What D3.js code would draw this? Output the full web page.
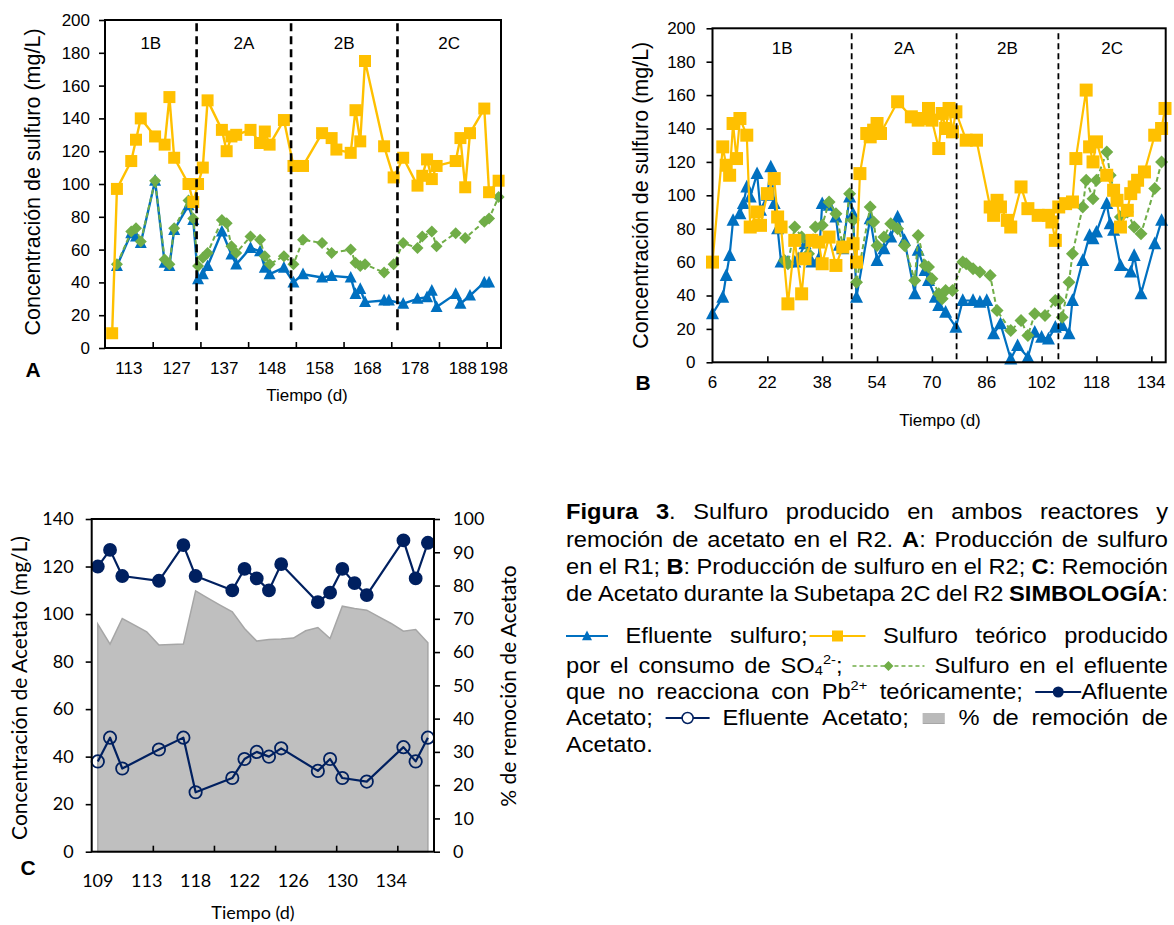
<!DOCTYPE html>
<html>
<head>
<meta charset="utf-8">
<script src="https://cdn.jsdelivr.net/npm/d3@7"></script>
<style>
  body { margin: 0; background: #fff; }
  svg { display: block; }
</style>
</head>
<body>
<script>
// ---------- Panel A: R1, sample number (category) vs sulfide, mg/L ----------
const tickIdxA   = [0, 10, 20, 30, 40, 50, 60, 70, 80];
const tickLblA   = ["113", "127", "137", "148", "158", "168", "178", "188", "198"];
const phaseLblA  = ["1B", "2A", "2B", "2C"];
const phaseCutA  = [18.7, 38.5, 60.8];

const teoIdxA = [1,2,5,6,7,10,12,13,14,17,18,19,20,21,24,25,26,27,30,32,33,34,37,39,41,45,47,48,51,52,53,54,58,60,62,65,66,67,68,69,73,74,75,76,79,80,82];
const teoValA = [9,97,114,127,140,129,124,153,116,100,89,100,110,151,133,120,129,130,133,125,132,124,139,111,111,131,128,121,119,145,126,175,123,104,116,99,105,115,103,111,114,128,98,131,146,95,102];

const eflIdxA = [2,5,6,7,10,12,13,14,17,18,19,20,21,24,26,27,30,32,33,34,37,39,41,45,47,51,52,53,54,58,59,62,65,67,68,69,73,74,76,79,80];
const eflValA = [50,70,68,64,102,52,50,72,87,78,42,45,50,71,57,51,61,59,49,45,49,40,45,43,44,43,33,36,28,29,29,27,30,31,35,25,33,27,32,40,40];

const sinIdxA = [2,5,6,7,10,12,13,14,17,18,19,20,21,24,25,26,27,30,32,33,34,37,39,41,45,47,51,52,53,54,58,60,62,65,66,68,69,73,75,79,80,82];
const sinValA = [51,71,73,65,102,54,51,73,90,79,50,55,58,78,76,62,58,68,66,56,51,56,51,66,64,58,60,52,50,51,46,51,64,61,68,71,62,70,67,77,79,92];

// ---------- Panel B: R2, day vs sulfide, mg/L ----------
const tickDayB  = [6, 22, 38, 54, 70, 86, 102, 118, 134];
const phaseLblB = ["1B", "2A", "2B", "2C"];
const phaseCutB = [46.6, 77.2, 106.9];

const teoDayB = [6,9,10,11,12,13,14,16,17,19,20,22,24,25,26,28,30,32,33,35,37,38,40,42,44,47,48,49,51,52,53,54,55,60,64,66,67,69,70,72,73,74,75,76,77,80,83,87,88,89,90,92,93,96,98,101,104,105,106,107,109,111,112,115,116,117,118,121,123,124,125,127,128,129,130,132,135,137,138];
const teoValB = [60,129,118,112,143,122,146,136,81,90,82,101,110,87,81,35,73,41,62,73,72,59,75,58,69,71,60,113,137,135,139,143,137,156,147,145,146,152,145,128,149,140,152,138,150,133,133,93,88,97,93,85,81,105,92,88,88,84,73,93,95,96,122,163,129,120,132,112,103,97,81,91,101,105,109,114,136,140,152];

const eflDayB = [6,9,10,11,12,14,15,16,17,19,20,22,23,24,25,26,28,30,31,33,35,37,38,40,42,43,44,46,47,48,52,54,56,58,60,62,65,66,68,69,71,72,74,77,79,82,84,86,88,90,93,95,98,100,102,104,106,108,110,111,114,116,117,118,121,122,123,125,128,129,131,135,137];
const eflValB = [29,39,52,64,85,89,95,105,99,113,91,100,117,95,80,60,60,60,62,71,60,62,95,94,87,70,68,99,89,39,86,61,68,75,87,73,41,67,55,49,39,34,30,21,37,37,36,37,17,23,2,10,3,18,15,14,21,22,17,37,61,76,74,78,95,83,79,58,54,64,41,71,85];

const sinDayB = [27,28,30,32,34,36,38,40,42,44,46,47,48,52,53,54,56,58,60,62,65,66,68,69,70,72,73,74,76,79,80,82,84,87,89,93,96,98,100,103,106,107,108,110,111,114,115,117,118,121,122,125,127,129,131,135,137];
const sinValB = [61,59,81,75,65,81,82,96,89,70,101,85,48,93,84,70,75,83,80,70,49,76,58,57,50,41,38,43,43,60,59,56,54,52,31,19,25,16,29,28,37,37,27,48,65,93,109,98,109,126,112,87,90,81,77,104,120];

// ---------- Panel C: acetate during sub-stage 2C ----------
const tickIdxC = [0, 4, 8, 12, 16, 20, 24];
const tickLblC = ["109", "113", "118", "122", "126", "130", "134"];
const markIdxC = [4.5, 9.5, 14.5, 19.5, 24.5];

const aflIdxC = [0,1,2,5,7,8,11,12,13,14,15,18,19,20,21,22,25,26,27];
const aflValC = [120,127,116,114,129,116,110,119,115,110,121,105,109,119,113,108,131,115,130];
const eflIdxC = [0,1,2,5,7,8,11,12,13,14,15,18,19,20,22,25,26,27];
const eflValC = [38,48,35,43,48,25,31,39,42,40,43.5,34,39,31,29.5,44,38,48];
const remValC = [68.4,62.4,70.1,68.1,66.1,62.1,62.3,62.4,78.4,76.2,74.1,72.1,67.1,63.3,63.8,63.9,64.2,66.4,67.4,64.1,73.8,73.1,72.6,70.6,68.6,66.3,66.8,62.8];

// ---------- colours ----------
const BLUE = "#0070C0", GOLD = "#FFC000", GREEN = "#70AD47", NAVY = "#002060", GREY = "#BFBFBF";
const ARIAL = "'Liberation Sans', Arial, sans-serif";
const CALI  = "Lato, 'Open Sans', sans-serif";

const svg = d3.select("body").append("svg")
  .attr("width", 1174).attr("height", 925)
  .style("font-family", ARIAL);

// marker shapes
const sq  = s => `M${-s/2},${-s/2}h${s}v${s}h${-s}Z`;
const tri = s => `M0,${-s*0.55}L${s/2},${s*0.42}L${-s/2},${s*0.42}Z`;
const dia = s => `M0,${-s/2}L${s/2},0L0,${s/2}L${-s/2},0Z`;

function drawSeries(g, xs, ys, xS, yS, o) {
  const pts = xs.map((x, i) => [x, ys[i]]);
  g.append("path").datum(pts)
    .attr("fill", "none").attr("stroke", o.color).attr("stroke-width", o.lw)
    .attr("stroke-dasharray", o.dash || null).attr("stroke-linejoin", "round")
    .attr("d", d3.line().x(d => xS(d[0])).y(d => yS(d[1])));
  g.append("g").selectAll("path").data(pts).join("path")
    .attr("transform", d => `translate(${xS(d[0])},${yS(d[1])})`)
    .attr("d", o.marker)
    .attr("fill", o.fill || o.color)
    .attr("stroke", o.mstroke || "none")
    .attr("stroke-width", o.msw || 0);
}

function styleAxis(sel, font, size) {
  sel.select(".domain").remove();
  sel.selectAll(".tick line").attr("stroke", "#000").attr("stroke-width", 1.6);
  sel.selectAll(".tick text").attr("fill", "#000").style("font-family", font).style("font-size", size + "px");
}

// ================= Panel A =================
{
  const P = { l: 105, r: 501, t: 20, b: 348 };
  const x = d3.scaleLinear().domain([-0.5, 82.5]).range([P.l, P.r]);
  const y = d3.scaleLinear().domain([0, 200]).range([P.b, P.t]);
  const g = svg.append("g");

  g.append("g").attr("transform", `translate(${P.l},0)`)
    .call(d3.axisLeft(y).tickValues(d3.range(0, 201, 20)).tickSize(6).tickPadding(9))
    .call(s => styleAxis(s, ARIAL, 17));

  const bounds = tickIdxA.map(i => i - 0.5);
  g.append("g").attr("transform", `translate(0,${P.b})`)
    .call(d3.axisBottom(x).tickValues(bounds.slice(1)).tickSize(-6).tickFormat(""))
    .call(s => styleAxis(s, ARIAL, 17));
  const edges = bounds.concat([x.domain()[1]]);
  g.append("g").selectAll("text").data(tickLblA).join("text")
    .attr("x", (d, i) => x((edges[i] + edges[i + 1]) / 2)).attr("y", P.b + 26)
    .attr("text-anchor", "middle").style("font-size", "17px").text(d => d);

  drawSeries(g, eflIdxA, eflValA, x, y, { color: BLUE, lw: 2.4, marker: tri(12) });
  drawSeries(g, sinIdxA, sinValA, x, y, { color: GREEN, lw: 2, dash: "5,3", marker: dia(12) });
  drawSeries(g, teoIdxA, teoValA, x, y, { color: GOLD, lw: 2.4, marker: sq(12) });

  g.append("g").selectAll("line").data(phaseCutA).join("line")
    .attr("x1", d => x(d)).attr("x2", d => x(d))
    .attr("y1", y(198)).attr("y2", y(10))
    .attr("stroke", "#000").attr("stroke-width", 2.6).attr("stroke-dasharray", "8,5");
  const pe = [x.domain()[0]].concat(phaseCutA, [x.domain()[1]]);
  g.append("g").selectAll("text").data(phaseLblA).join("text")
    .attr("x", (d, i) => x((pe[i] + pe[i + 1]) / 2)).attr("y", P.t + 29)
    .attr("text-anchor", "middle").style("font-size", "17px").text(d => d);

  g.append("rect").attr("x", P.l).attr("y", P.t).attr("width", P.r - P.l).attr("height", P.b - P.t)
    .attr("fill", "none").attr("stroke", "#000").attr("stroke-width", 2);

  g.append("text").attr("transform", `translate(${40},${(P.t + P.b) / 2 - 2}) rotate(-90)`)
    .attr("text-anchor", "middle").style("font-size", "21.5px").text("Concentración de sulfuro (mg/L)");
  g.append("text").attr("x", 307).attr("y", 401).attr("text-anchor", "middle")
    .style("font-size", "17px").text("Tiempo (d)");
  g.append("text").attr("x", 33).attr("y", 377).attr("text-anchor", "middle")
    .style("font-size", "21px").style("font-weight", "bold").text("A");
}

// ================= Panel B =================
{
  const P = { l: 712.5, r: 1165.7, t: 28.3, b: 362.3 };
  const x = d3.scaleLinear().domain([6, 138.2]).range([P.l, P.r]);
  const y = d3.scaleLinear().domain([0, 200]).range([P.b, P.t]);
  const g = svg.append("g");

  g.append("g").attr("transform", `translate(${P.l},0)`)
    .call(d3.axisLeft(y).tickValues(d3.range(0, 201, 20)).tickSize(6).tickPadding(11))
    .call(s => styleAxis(s, ARIAL, 17));
  g.append("g").attr("transform", `translate(0,${P.b})`)
    .call(d3.axisBottom(x).tickValues(tickDayB.slice(1)).tickSize(-6).tickFormat(""))
    .call(s => styleAxis(s, ARIAL, 17));
  g.append("g").selectAll("text").data(tickDayB).join("text")
    .attr("x", d => x(d)).attr("y", P.b + 26)
    .attr("text-anchor", "middle").style("font-size", "17px").text(d => d);

  drawSeries(g, eflDayB, eflValB, x, y, { color: BLUE, lw: 2.2, marker: tri(13) });
  drawSeries(g, sinDayB, sinValB, x, y, { color: GREEN, lw: 2, dash: "5,3", marker: dia(13) });
  drawSeries(g, teoDayB, teoValB, x, y, { color: GOLD, lw: 2.2, marker: sq(13) });

  g.append("g").selectAll("line").data(phaseCutB).join("line")
    .attr("x1", d => x(d)).attr("x2", d => x(d))
    .attr("y1", y(197)).attr("y2", y(0))
    .attr("stroke", "#000").attr("stroke-width", 1.8).attr("stroke-dasharray", "6,4");
  const pe = [x.domain()[0]].concat(phaseCutB, [x.domain()[1]]);
  g.append("g").selectAll("text").data(phaseLblB).join("text")
    .attr("x", (d, i) => x((pe[i] + pe[i + 1]) / 2)).attr("y", P.t + 26)
    .attr("text-anchor", "middle").style("font-size", "17px").text(d => d);

  g.append("rect").attr("x", P.l).attr("y", P.t).attr("width", P.r - P.l).attr("height", P.b - P.t)
    .attr("fill", "none").attr("stroke", "#000").attr("stroke-width", 2);

  g.append("text").attr("transform", `translate(${648},${(P.t + P.b) / 2}) rotate(-90)`)
    .attr("text-anchor", "middle").style("font-size", "21.5px").text("Concentración de sulfuro (mg/L)");
  g.append("text").attr("x", 940).attr("y", 426).attr("text-anchor", "middle")
    .style("font-size", "17px").text("Tiempo (d)");
  g.append("text").attr("x", 643).attr("y", 390).attr("text-anchor", "middle")
    .style("font-size", "21px").style("font-weight", "bold").text("B");
}

// ================= Panel C =================
{
  const P = { l: 91.7, r: 434, t: 519, b: 851.7 };
  const x = d3.scaleLinear().domain([-0.5, 27.5]).range([P.l, P.r]);
  const y = d3.scaleLinear().domain([0, 140]).range([P.b, P.t]);
  const y2 = d3.scaleLinear().domain([0, 100]).range([P.b, P.t]);
  const g = svg.append("g");

  g.append("path").datum(remValC)
    .attr("fill", GREY).attr("stroke", "#A6A6A6").attr("stroke-width", 1.5)
    .attr("d", d3.area().x((d, i) => x(i)).y0(P.b).y1(d => y2(d)));

  g.append("g").attr("transform", `translate(${P.l},0)`)
    .call(d3.axisLeft(y).tickValues(d3.range(0, 141, 20)).tickSize(6).tickPadding(12))
    .call(s => styleAxis(s, CALI, 18));
  g.append("g").attr("transform", `translate(${P.r},0)`)
    .call(d3.axisRight(y2).tickValues(d3.range(0, 101, 10)).tickSize(6).tickPadding(13))
    .call(s => styleAxis(s, CALI, 18));
  g.append("g").attr("transform", `translate(0,${P.b})`)
    .call(d3.axisBottom(x).tickValues(markIdxC).tickSize(-6).tickFormat(""))
    .call(s => styleAxis(s, CALI, 18));
  g.append("g").selectAll("text").data(tickLblC).join("text")
    .attr("x", (d, i) => x(tickIdxC[i])).attr("y", P.b + 35)
    .attr("text-anchor", "middle").style("font-family", CALI).style("font-size", "18px").text(d => d);

  drawSeries(g, aflIdxC, aflValC, x, y, { color: NAVY, lw: 2.2, marker: d3.symbol(d3.symbolCircle, 150)() });
  drawSeries(g, eflIdxC, eflValC, x, y, { color: NAVY, lw: 2.2, marker: d3.symbol(d3.symbolCircle, 120)(),
    fill: "none", mstroke: NAVY, msw: 1.8 });

  g.append("rect").attr("x", P.l).attr("y", P.t).attr("width", P.r - P.l).attr("height", P.b - P.t)
    .attr("fill", "none").attr("stroke", "#000").attr("stroke-width", 2);

  g.append("text").attr("transform", `translate(${27},${688}) rotate(-90)`)
    .attr("text-anchor", "middle").style("font-family", CALI).style("font-size", "21px")
    .text("Concentración de Acetato (mg/L)");
  g.append("text").attr("transform", `translate(${516},${686}) rotate(-90)`)
    .attr("text-anchor", "middle").style("font-family", CALI).style("font-size", "21px")
    .text("% de remoción de Acetato");
  g.append("text").attr("x", 253).attr("y", 919).attr("text-anchor", "middle")
    .style("font-family", CALI).style("font-size", "18px").text("Tiempo (d)");
  g.append("text").attr("x", 28).attr("y", 875).attr("text-anchor", "middle")
    .style("font-size", "21px").style("font-weight", "bold").text("C");
}

// ================= Caption with inline legend =================
const capLeft = 566, capRight = 1168, capFont = 21.5, capSX = 1.1;
const captionLines = [
  "*Figura 3*. Sulfuro producido en ambos reactores y",
  "remoción de acetato en el R2. *A*: Producción de sulfuro",
  "en el R1; *B*: Producción de sulfuro en el R2; *C*: Remoción",
  "de Acetato durante la Subetapa 2C del R2 *SIMBOLOGÍA*:",
  "[ef] Efluente sulfuro;[teo] Sulfuro teórico producido",
  "por el consumo de SO~4~^2-^; [sin] Sulfuro en el efluente",
  "que no reacciona con Pb^2+^ teóricamente; [afl]Afluente",
  "Acetato; [efa] Efluente Acetato; [rem] % de remoción de",
  "Acetato."
];
const captionBase = [519, 546.5, 574, 601, 643, 673, 699, 725, 752];

const icons = {
  ef:  { w: 42, draw: g => {
    g.append("line").attr("x2", 42).attr("stroke", BLUE).attr("stroke-width", 2);
    g.append("path").attr("transform", "translate(21,0)").attr("d", tri(10)).attr("fill", BLUE); } },
  teo: { w: 58, draw: g => {
    g.append("line").attr("x1", 2).attr("x2", 58).attr("stroke", GOLD).attr("stroke-width", 2);
    g.append("path").attr("transform", "translate(30,0)").attr("d", sq(11)).attr("fill", GOLD); } },
  sin: { w: 72, draw: g => {
    g.append("line").attr("x2", 72).attr("stroke", GREEN).attr("stroke-width", 1.5).attr("stroke-dasharray", "4,3");
    g.append("path").attr("transform", "translate(36,0)").attr("d", dia(10)).attr("fill", GREEN); } },
  afl: { w: 46, draw: g => {
    g.append("line").attr("x2", 46).attr("stroke", NAVY).attr("stroke-width", 2);
    g.append("circle").attr("cx", 23).attr("r", 5.5).attr("fill", NAVY); } },
  efa: { w: 44, draw: g => {
    g.append("line").attr("x2", 44).attr("stroke", NAVY).attr("stroke-width", 2);
    g.append("circle").attr("cx", 22).attr("r", 5.5).attr("fill", "#fff").attr("stroke", NAVY).attr("stroke-width", 1.5); } },
  rem: { w: 24, draw: g => {
    g.append("rect").attr("x", 1).attr("y", -5).attr("width", 22).attr("height", 11).attr("fill", "#A6A6A6");
    g.append("g").selectAll("line").data(d3.range(-4, 6, 2)).join("line")
      .attr("x1", 1).attr("x2", 23).attr("y1", d => d).attr("y2", d => d)
      .attr("stroke", "#D9D9D9").attr("stroke-width", 0.8); } }
};

function parseLine(str) {
  const words = []; let cur = []; let b = false, sup = false, sub = false, buf = "";
  const flush = () => { if (buf) { cur.push({ s: buf, b, sup, sub }); buf = ""; } };
  for (let i = 0; i < str.length; i++) {
    const ch = str[i];
    if (ch === "*") { flush(); b = !b; }
    else if (ch === "^") { flush(); sup = !sup; }
    else if (ch === "~") { flush(); sub = !sub; }
    else if (ch === "[") { flush(); const j = str.indexOf("]", i); cur.push({ icon: str.slice(i + 1, j) }); i = j; }
    else if (ch === " ") { flush(); if (cur.length) { words.push(cur); cur = []; } }
    else buf += ch;
  }
  flush(); if (cur.length) words.push(cur);
  return words;
}

{
  const g = svg.append("g").style("font-family", ARIAL).style("font-size", capFont + "px");
  captionLines.forEach((line, li) => {
    const yb = captionBase[li];
    const items = parseLine(line).map(word => {
      const wg = g.append("g");
      let w = 0;
      word.forEach(run => {
        if (run.icon) {
          const ic = icons[run.icon];
          ic.draw(wg.append("g").attr("transform", `translate(${w},${yb - 7})`));
          w += ic.w;
        } else {
          const fs = (run.sup || run.sub) ? capFont * 0.62 : capFont;
          const dy = run.sup ? -capFont * 0.4 : run.sub ? capFont * 0.1 : 0;
          const t = wg.append("text").attr("transform", `translate(${w},${yb + dy}) scale(${capSX},1)`)
            .style("font-size", fs + "px").style("font-weight", run.b ? "bold" : "normal").text(run.s);
          w += t.node().getComputedTextLength() * capSX;
        }
      });
      return { g: wg, w };
    });
    const total = d3.sum(items, d => d.w);
    const last = li === captionLines.length - 1;
    const gap = (!last && items.length > 1) ? (capRight - capLeft - total) / (items.length - 1) : capFont * 0.3;
    let xp = capLeft;
    items.forEach(it => { it.g.attr("transform", `translate(${xp},0)`); xp += it.w + gap; });
  });
}
</script>
</body>
</html>
